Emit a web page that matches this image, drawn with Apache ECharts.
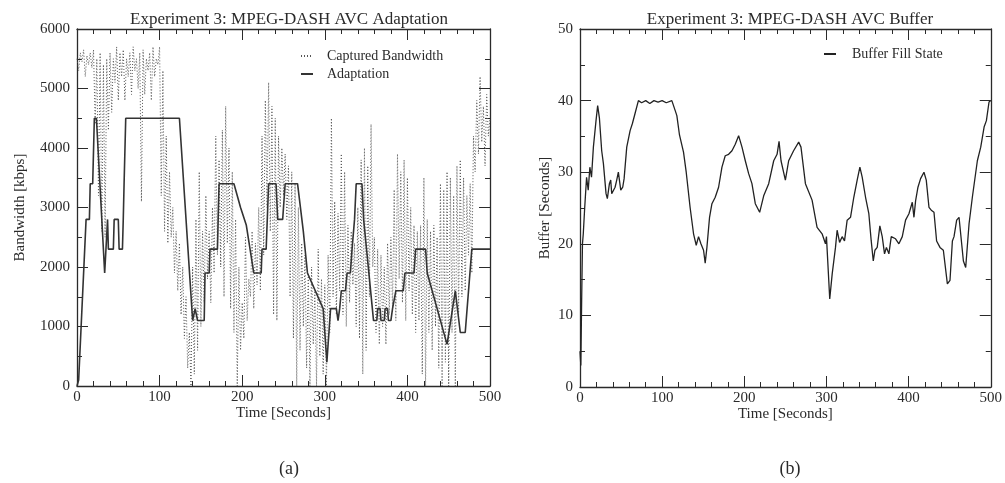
<!DOCTYPE html>
<html>
<head>
<meta charset="utf-8" />
<title>Experiment 3: MPEG-DASH AVC</title>
<script src="https://cdn.jsdelivr.net/npm/echarts@6/dist/echarts.min.js"></script>
<style>
    html, body { margin: 0; padding: 0; background: #fff; }
    #main { width: 1005px; height: 483px; }
</style>
</head>
<body>
<div id="main"></div>
<script type="text/javascript">
// captured bandwidth, one sample every bwStep seconds (kbps)
var bwStep = 2;
var capturedBw = [
    5500, 5300, 5600, 5450, 5650, 5200, 5550, 5400, 5600, 5350,
    5650, 4400, 5500, 3200, 5600, 2600, 5400, 2500, 5500, 4300,
    5600, 4600, 5500, 5100, 5700, 4800, 5600, 5200, 5650, 4800,
    5500, 5200, 5600, 4900, 5700, 5300, 5500, 5000, 5600, 3100,
    5650, 4900, 5500, 5300, 5600, 4800, 5700, 5200, 5500, 5400,
    5700, 3200, 5300, 2600, 4200, 2400, 3600, 2500, 3000, 1900,
    2600, 1600, 2400, 1200, 2000, 800, 1500, 300, 900, 0,
    2000, 200, 2800, 600, 3600, 1000, 2600, 1400, 3200, 1800,
    2600, 1400, 3000, 1900, 4200, 2200, 3800, 2000, 4300, 1500,
    4700, 2400, 4000, 1300, 3600, 900, 2800, 0, 2000, 600,
    1400, 800, 2500, 1100, 1800, 1500, 2600, 1300, 2400, 1700,
    3000, 1600, 4200, 2200, 4800, 3000, 5100, 2600, 4700, 1200,
    4500, 1100, 4200, 3000, 4000, 3200, 3900, 2800, 3700, 1500,
    3600, 800, 3400, 0, 3000, 600, 2400, 1000, 2200, 300,
    1900, 0, 2000, 700, 1600, 0, 2300, 500, 1800, 200,
    1700, 0, 2200, 900, 4500, 1500, 3100, 1200, 2900, 1600,
    3900, 1200, 3600, 1000, 2700, 1400, 2600, 1700, 2400, 1000,
    3000, 800, 3800, 200, 4000, 600, 3700, 1500, 4400, 2000,
    2500, 900, 2300, 700, 2200, 1000, 2000, 700, 2400, 1200,
    2500, 1300, 3300, 1100, 3900, 1800, 3600, 1400, 3800, 1100,
    3500, 1600, 3000, 1200, 2700, 900, 2600, 1100, 2700, 200,
    3500, 0, 2800, 900, 2600, 600, 2700, 1000, 2500, 300,
    3400, 0, 3300, 400, 3600, 0, 3500, 900, 3200, 0,
    3700, 1200, 3800, 1500, 3500, 1600, 3200, 2200, 3400, 1900,
    4200, 3600, 4800, 3900, 5200, 4100, 4700, 3700, 4900, 4200, 4500
];

// adaptation (selected representation), vertices of the curve
var adaptTime = [0, 2, 11, 15, 16, 19, 21, 23.5, 33.5, 37, 38, 44, 45, 50, 51, 55, 56, 57, 59, 124,
    140, 143, 145, 146, 154, 155, 160, 161, 170, 172, 190, 198, 205, 214, 223, 224, 229, 232, 241, 243,
    249, 252, 267, 274, 279, 298, 302.5, 307, 314, 316, 318, 320, 325, 327, 331, 333, 336, 338, 345, 347,
    359, 363, 364, 367, 368, 372, 373, 376, 377, 380, 382, 386, 395, 397, 408, 410, 422, 424, 448, 458,
    464, 470, 478, 500];
var adaptRate = [0, 100, 2800, 2800, 3400, 3400, 4500, 4500, 1900, 2800, 2300, 2300, 2800, 2800, 2300, 2300, 2800, 3400, 4500, 4500,
    1100, 1300, 1300, 1100, 1100, 1900, 1900, 2300, 2300, 3400, 3400, 3000, 2700, 1900, 1900, 2300, 2300, 3400, 3400, 2800,
    2800, 3400, 3400, 2600, 1900, 1300, 400, 1300, 1300, 1100, 1300, 1600, 1600, 1900, 1900, 2300, 2800, 3400, 3400, 2800,
    1100, 1100, 1300, 1300, 1100, 1100, 1300, 1300, 1100, 1100, 1300, 1600, 1600, 1900, 1900, 2300, 2300, 1900, 700, 1600,
    900, 900, 2300, 2300];

// buffer fill state (seconds)
var bufTime = [0, 1, 2, 3, 4, 5.7, 8, 10, 12, 14,
    16.3, 19.5, 21.5, 23.6, 26.4, 28.5, 31.7, 33.3, 35.8, 37.4,
    38.6, 42.7, 44.7, 46.7, 49.6, 52, 53.7, 56.9, 61, 63.8,
    67, 71.1, 75, 80, 85, 90, 95, 100, 105, 111.8,
    115.9, 117.9, 121.1, 126, 129.3, 134, 138.2, 141.5, 144.3, 147.2,
    150.4, 152.4, 154.5, 157.7, 160.6, 164.6, 168.7, 172.8, 176.8, 180.9,
    185, 189, 193.1, 197.2, 201.2, 205.3, 209.3, 213.4, 218.7, 223.6,
    229.7, 235.8, 239.9, 242.3, 244.7, 250, 254, 260, 266.2, 269,
    274.4, 282.5, 288.6, 294.7, 298.8, 300, 304, 307, 311, 313,
    316, 319.1, 322, 325.2, 329.3, 333.3, 337.4, 340.7, 343.5, 347.6,
    351.6, 354.5, 357, 359, 361.8, 365, 367.9, 370.7, 373, 376,
    378.9, 384.1, 388.2, 392.3, 396.3, 400.4, 404.5, 406.5, 408.5, 411.4,
    414.6, 418.7, 421.5, 424.8, 427.6, 430.9, 434.1, 438.2, 442.3, 447.2,
    450.4, 453.3, 455.3, 458.5, 461.4, 463.4, 466.7, 469.5, 473.6, 477.6,
    483.7, 487.8, 491.9, 494.7, 497.9, 500];
var bufLevel = [5, 3, 12, 20, 21.4, 25, 29.3, 27.5, 30.7, 29.3,
    33.5, 37.2, 39.3, 37.6, 33, 31.2, 27, 26.3, 28.4, 28.9,
    27, 27.9, 28.9, 30, 27.5, 27.9, 29.1, 33.5, 35.8, 36.8,
    38.2, 40, 39.7, 40, 39.6, 40, 39.8, 40, 39.7, 40,
    38.6, 37.9, 35.2, 32.8, 30, 25.1, 21.4, 19.8, 21, 20,
    19.1, 17.3, 19.5, 23.7, 25.6, 26.5, 27.9, 30.7, 32.3, 32.5,
    33, 33.9, 35.1, 33.5, 31.6, 29.8, 28.4, 25.6, 24.4, 26.7,
    28.4, 31.6, 32.5, 34.3, 31.6, 28.9, 31.6, 33, 34.2, 33.5,
    28.4, 26.1, 22.3, 21.4, 20, 21, 12.3, 15.8, 19.5, 21.9,
    20.2, 21, 20.4, 23.3, 23.7, 26.5, 28.9, 30.7, 29.3, 26.5,
    24.2, 20.4, 17.6, 19.1, 19.5, 22.5, 21, 18.6, 19.5, 18.6,
    21, 20.7, 20, 21, 23.3, 24.2, 25.8, 23.7, 26, 27.9,
    29.1, 30, 28.9, 25.1, 24.7, 24.4, 20.4, 19.5, 19.1, 14.4,
    14.9, 20.4, 21, 23.3, 23.7, 23.7, 17.6, 16.7, 22.8, 26.5,
    31.6, 33.5, 36.3, 37.2, 39.8, 40];

var serif = 'Liberation Serif';
var ink = '#2a2a2a';
var noSymbol = { color: 'rgba(0,0,0,0)', borderWidth: 0 };

function pairs(xs, ys) {
    var out = [];
    for (var i = 0; i < ys.length; i++) out.push([xs[i], ys[i]]);
    return out;
}
var bwData = capturedBw.map(function (v, i) { return [i * bwStep, v]; });

// one x axis (bottom with labels, top only ticks)
function timeAxis(grid, bottom) {
    return {
        type: 'value', gridIndex: grid, min: 0, max: 500, interval: 100,
        position: bottom ? 'bottom' : 'top',
        name: bottom ? 'Time [Seconds]' : '',
        nameLocation: 'middle', nameGap: 20, nameMoveOverlap: false,
        nameTextStyle: { fontFamily: serif, fontSize: 15, color: ink },
        axisLine: { onZero: false, lineStyle: { color: ink, width: 1.3 } },
        axisTick: { inside: true, length: 11, lineStyle: { color: ink } },
        minorTick: { show: true, splitNumber: 5, length: 5, lineStyle: { color: ink } },
        axisLabel: { show: bottom, margin: 4, fontFamily: serif, fontSize: 15, color: ink },
        splitLine: { show: false }
    };
}
function valueAxis(grid, left, max, step, name, gap) {
    return {
        type: 'value', gridIndex: grid, min: 0, max: max, interval: step,
        position: left ? 'left' : 'right',
        name: left ? name : '',
        nameLocation: 'middle', nameGap: gap, nameMoveOverlap: false,
        nameTextStyle: { fontFamily: serif, fontSize: 15, color: ink },
        axisLine: { onZero: false, lineStyle: { color: ink, width: 1.3 } },
        axisTick: { inside: true, length: 11, lineStyle: { color: ink } },
        minorTick: { show: true, splitNumber: 2, length: 5, lineStyle: { color: ink } },
        axisLabel: { show: left, margin: 7, fontFamily: serif, fontSize: 15, color: ink,
                     formatter: function (v) { return String(v); } },
        splitLine: { show: false }
    };
}

var chart = echarts.init(document.getElementById('main'));
var option = {
    backgroundColor: '#fff',
    animation: false,
    title: [
        { text: 'Experiment 3: MPEG-DASH AVC Adaptation', left: 284, top: 6, textAlign: 'center',
          textStyle: { fontFamily: serif, fontSize: 17, fontWeight: 'normal', color: ink } },
        { text: 'Experiment 3: MPEG-DASH AVC Buffer', left: 785, top: 6, textAlign: 'center',
          textStyle: { fontFamily: serif, fontSize: 17, fontWeight: 'normal', color: ink } },
        { text: '(a)', left: 284, top: 455, textAlign: 'center',
          textStyle: { fontFamily: serif, fontSize: 18, fontWeight: 'normal', color: ink } },
        { text: '(b)', left: 785, top: 455, textAlign: 'center',
          textStyle: { fontFamily: serif, fontSize: 18, fontWeight: 'normal', color: ink } }
    ],
    legend: [
        { data: ['Captured Bandwidth', 'Adaptation'], orient: 'vertical', left: 295, top: 44,
          itemWidth: 12, itemHeight: 8, itemGap: 4, itemStyle: noSymbol,
          textStyle: { fontFamily: serif, fontSize: 14, color: ink, padding: [0, 0, 0, 9] } },
        { data: ['Buffer Fill State'], orient: 'vertical', left: 818, top: 42,
          itemWidth: 12, itemHeight: 8, itemStyle: noSymbol,
          textStyle: { fontFamily: serif, fontSize: 14, color: ink, padding: [0, 0, 0, 11] } }
    ],
    grid: [
        { left: 77, top: 29, width: 413, height: 357 },
        { left: 580, top: 29, width: 411, height: 358 }
    ],
    xAxis: [timeAxis(0, true), timeAxis(0, false), timeAxis(1, true), timeAxis(1, false)],
    yAxis: [
        valueAxis(0, true, 6000, 1000, 'Bandwidth [kbps]', 49),
        valueAxis(0, false, 6000, 1000, '', 0),
        valueAxis(1, true, 50, 10, 'Buffer [Seconds]', 27),
        valueAxis(1, false, 50, 10, '', 0)
    ],
    series: [
        {
            name: 'Captured Bandwidth', type: 'line', xAxisIndex: 0, yAxisIndex: 0,
            data: bwData, symbol: 'none',
            lineStyle: { color: '#555', width: 1, type: [1, 2] }, itemStyle: noSymbol
        },
        {
            name: 'Adaptation', type: 'line', xAxisIndex: 0, yAxisIndex: 0,
            data: pairs(adaptTime, adaptRate), symbol: 'none',
            lineStyle: { color: '#333', width: 1.6 }, itemStyle: noSymbol
        },
        {
            name: 'Buffer Fill State', type: 'line', xAxisIndex: 2, yAxisIndex: 2,
            data: pairs(bufTime, bufLevel), symbol: 'none',
            lineStyle: { color: '#222', width: 1.3 }, itemStyle: noSymbol
        }
    ]
};
chart.setOption(option);
</script>
</body>
</html>
